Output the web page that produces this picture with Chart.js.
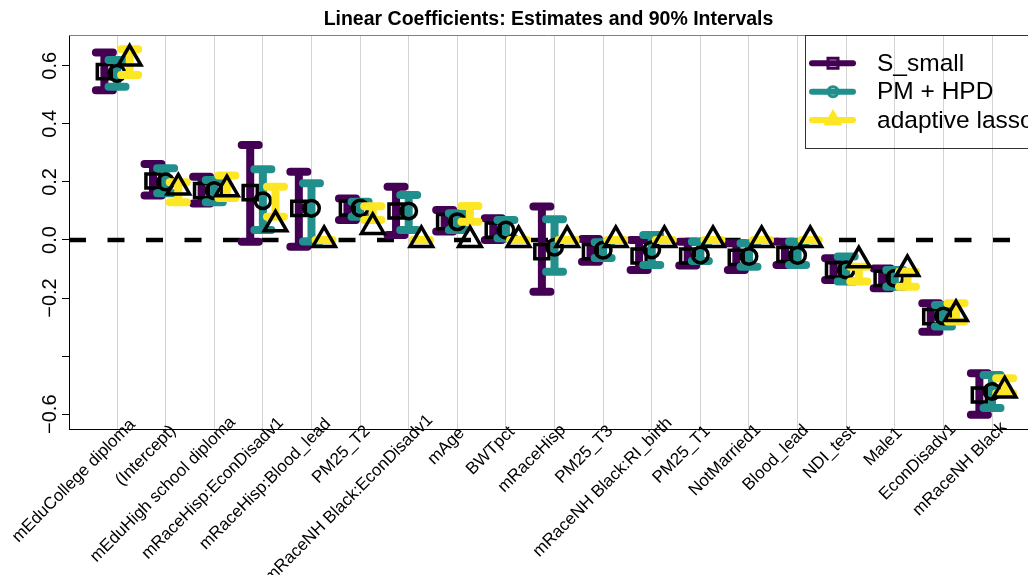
<!DOCTYPE html>
<html>
<head>
<meta charset="utf-8">
<script src="https://cdn.jsdelivr.net/npm/chart.js@4"></script>
<style>
html, body { margin: 0; padding: 0; background: #fff; }
</style>
</head>
<body>
<canvas id="myChart" width="1028" height="575"></canvas>
<script>
var categories = ["mEduCollege diploma", "(Intercept)", "mEduHigh school diploma", "mRaceHisp:EconDisadv1",
    "mRaceHisp:Blood_lead", "PM25_T2", "mRaceNH Black:EconDisadv1", "mAge", "BWTpct", "mRaceHisp",
    "PM25_T3", "mRaceNH Black:RI_birth", "PM25_T1", "NotMarried1", "Blood_lead", "NDI_test",
    "Male1", "EconDisadv1", "mRaceNH Black"];

var seriesNames = ["S_small", "PM + HPD", "adaptive lasso"];

// S_small
var sSmallEst = [0.580, 0.203, 0.170, 0.163, 0.109, 0.110, 0.100, 0.063, 0.034, -0.040, -0.040, -0.055, -0.055, -0.060, -0.050, -0.103, -0.132, -0.264, -0.534];
var sSmallLo  = [0.516, 0.153, 0.126, -0.006, -0.023, 0.069, 0.017, 0.029, 0.000, -0.178, -0.075, -0.103, -0.088, -0.103, -0.086, -0.138, -0.166, -0.316, -0.602];
var sSmallHi  = [0.646, 0.262, 0.218, 0.327, 0.235, 0.143, 0.183, 0.103, 0.075, 0.115, 0.003, 0.000, -0.006, -0.011, -0.006, -0.063, -0.098, -0.218, -0.459];

// PM + HPD
var pmEst = [0.574, 0.200, 0.170, 0.135, 0.109, 0.110, 0.100, 0.063, 0.034, -0.025, -0.035, -0.034, -0.052, -0.057, -0.053, -0.103, -0.132, -0.262, -0.522];
var pmLo  = [0.528, 0.161, 0.130, 0.034, -0.005, 0.080, 0.034, 0.034, 0.006, -0.109, -0.062, -0.086, -0.072, -0.092, -0.086, -0.143, -0.161, -0.298, -0.579];
var pmHi  = [0.620, 0.247, 0.207, 0.244, 0.195, 0.132, 0.155, 0.092, 0.069, 0.071, -0.008, 0.017, -0.006, -0.011, -0.006, -0.057, -0.103, -0.224, -0.465];

// adaptive lasso
var lassoEst = [0.625, 0.181, 0.175, 0.054, 0.000, 0.045, 0.000, 0.000, 0.000, 0.000, 0.000, 0.000, 0.000, 0.000, 0.000, -0.070, -0.100, -0.255, -0.518];
var lassoLo  = [0.568, 0.130, 0.145, 0.080, 0.000, 0.069, 0.000, 0.063, 0.000, 0.000, 0.000, 0.000, 0.000, 0.000, 0.000, -0.143, -0.161, -0.281, -0.528];
var lassoHi  = [0.657, 0.199, 0.222, 0.183, 0.000, 0.116, 0.000, 0.117, 0.000, 0.000, 0.000, 0.000, 0.000, 0.000, 0.000, -0.092, -0.109, -0.218, -0.476];

var yTicks = [-0.6, -0.4, -0.2, 0, 0.2, 0.4, 0.6];
var yTickLabels = ["\u22120.6", "", "\u22120.2", "0.0", "0.2", "0.4", "0.6"];

var FONT = '"Liberation Sans", Arial, Helvetica, sans-serif';
var colors = ['#440154', '#21908C', '#FDE725'];
var offsets = [-0.26, 0, 0.26];

function points(est, off) {
    return est.map(function (v, i) { return { x: i + off, y: v }; });
}

var intervalPlugin = {
    id: 'intervals',
    beforeDatasetsDraw: function (chart) {
        // dashed zero line
        var ctx = chart.ctx, a = chart.chartArea;
        var y0 = chart.scales.y.getPixelForValue(0);
        ctx.save();
        ctx.strokeStyle = '#000';
        ctx.lineWidth = 4.5;
        ctx.setLineDash([17, 21.5]);
        ctx.beginPath();
        ctx.moveTo(a.left, y0);
        ctx.lineTo(a.right, y0);
        ctx.stroke();
        ctx.restore();
    },
    beforeDatasetDraw: function (chart, args) {
        var ds = chart.data.datasets[args.index];
        if (!ds.lo) return;
        var ctx = chart.ctx, xs = chart.scales.x, ys = chart.scales.y;
        ctx.save();
        ctx.strokeStyle = ds.barColor;
        ctx.lineWidth = 8;
        ctx.lineCap = 'round';
        ds.lo.forEach(function (lo, i) {
            var x = xs.getPixelForValue(i + ds.offset);
            var y1 = ys.getPixelForValue(lo), y2 = ys.getPixelForValue(ds.hi[i]);
            ctx.beginPath();
            ctx.moveTo(x, y1); ctx.lineTo(x, y2);
            ctx.moveTo(x - 8.5, y1); ctx.lineTo(x + 8.5, y1);
            ctx.moveTo(x - 8.5, y2); ctx.lineTo(x + 8.5, y2);
            ctx.stroke();
        });
        ctx.restore();
    },
    afterDraw: function (chart) {
        var ctx = chart.ctx, a = chart.chartArea, xs = chart.scales.x, ys = chart.scales.y;
        ctx.save();

        // top border
        ctx.strokeStyle = '#808080';
        ctx.lineWidth = 1;
        ctx.beginPath();
        ctx.moveTo(a.left, a.top + 0.5);
        ctx.lineTo(a.right, a.top + 0.5);
        ctx.stroke();

        // title
        ctx.fillStyle = '#000';
        ctx.font = 'bold 19.5px ' + FONT;
        ctx.textAlign = 'center';
        ctx.textBaseline = 'middle';
        ctx.fillText('Linear Coefficients: Estimates and 90% Intervals', (a.left + a.right) / 2, 20);

        // y labels
        ctx.font = '20px ' + FONT;
        ctx.textAlign = 'center';
        ctx.textBaseline = 'alphabetic';
        yTicks.forEach(function (v, i) {
            if (!yTickLabels[i]) return;
            ctx.save();
            ctx.translate(55.5, ys.getPixelForValue(v));
            ctx.rotate(-Math.PI / 2);
            ctx.fillText(yTickLabels[i], 0, 0);
            ctx.restore();
        });

        // x labels, rotated 45 degrees
        ctx.font = '17px ' + FONT;
        ctx.textAlign = 'right';
        ctx.textBaseline = 'alphabetic';
        categories.forEach(function (c, i) {
            var w = ctx.measureText(c).width;
            ctx.save();
            ctx.translate(xs.getPixelForValue(i) + 4 + 0.09 * w, a.bottom + 8 - 0.07 * w);
            ctx.rotate(-Math.PI / 4);
            ctx.fillText(c, 0, 0);
            ctx.restore();
        });

        // legend
        ctx.strokeStyle = '#333';
        ctx.lineWidth = 1;
        ctx.strokeRect(805.5, 35.5, 240, 113);
        var ly = [63.3, 91.7, 120];
        ctx.font = '24.5px ' + FONT;
        ctx.textAlign = 'left';
        ctx.textBaseline = 'middle';
        seriesNames.forEach(function (name, i) {
            ctx.strokeStyle = colors[i];
            ctx.fillStyle = colors[i];
            ctx.lineWidth = 6;
            ctx.lineCap = 'round';
            ctx.beginPath();
            ctx.moveTo(812, ly[i]);
            ctx.lineTo(853, ly[i]);
            ctx.stroke();
            ctx.lineWidth = 3;
            ctx.beginPath();
            if (i === 0) {
                ctx.rect(828, ly[i] - 5, 10, 10);
            } else if (i === 1) {
                ctx.arc(833, ly[i], 5, 0, Math.PI * 2);
            } else {
                ctx.moveTo(833, ly[i] - 8);
                ctx.lineTo(840, ly[i] + 4);
                ctx.lineTo(826, ly[i] + 4);
                ctx.closePath();
                ctx.fill();
            }
            ctx.stroke();
            ctx.fillStyle = '#000';
            ctx.fillText(name, 877, ly[i] + 1);
        });
        ctx.restore();
    }
};

var ctx = document.getElementById("myChart").getContext('2d');
var myChart = new Chart(ctx, {
    type: 'scatter',
    data: {
        datasets: [{
            label: seriesNames[0],
            data: points(sSmallEst, offsets[0]),
            lo: sSmallLo, hi: sSmallHi, offset: offsets[0], barColor: colors[0],
            pointStyle: 'rect',
            pointRadius: 10,
            order: 2
        }, {
            label: seriesNames[1],
            data: points(pmEst, offsets[1]),
            lo: pmLo, hi: pmHi, offset: offsets[1], barColor: colors[1],
            pointStyle: 'circle',
            pointRadius: 7.8,
            order: 1
        }, {
            label: seriesNames[2],
            data: points(lassoEst, offsets[2]),
            lo: lassoLo, hi: lassoHi, offset: offsets[2], barColor: colors[2],
            pointStyle: 'triangle',
            pointRadius: 13,
            order: 0
        }]
    },
    options: {
        responsive: false,
        animation: false,
        devicePixelRatio: 1,
        layout: { autoPadding: false, padding: { top: 35, left: 0, right: 0, bottom: 0 } },
        elements: {
            point: {
                borderColor: '#000',
                backgroundColor: 'rgba(0,0,0,0)',
                borderWidth: 3.5,
                hoverRadius: 0
            }
        },
        plugins: {
            legend: { display: false },
            title: { display: false },
            tooltip: { enabled: false }
        },
        scales: {
            x: {
                type: 'linear',
                min: -0.988,
                max: 18.74,
                afterBuildTicks: function (scale) {
                    scale.ticks = categories.map(function (c, i) { return { value: i }; });
                },
                afterFit: function (scale) { scale.height = 146; },
                ticks: { display: false },
                grid: { color: '#D3D3D3', lineWidth: 1, drawTicks: false },
                border: { display: true, color: '#000', width: 1 }
            },
            y: {
                min: -0.651,
                max: 0.706,
                afterBuildTicks: function (scale) {
                    scale.ticks = yTicks.map(function (v) { return { value: v }; });
                },
                afterFit: function (scale) { scale.width = 69; },
                ticks: { display: false },
                grid: { drawOnChartArea: false, drawTicks: true, tickLength: 7, tickColor: '#000' },
                border: { display: true, color: '#000', width: 1 }
            }
        }
    },
    plugins: [intervalPlugin]
});
</script>
</body>
</html>
